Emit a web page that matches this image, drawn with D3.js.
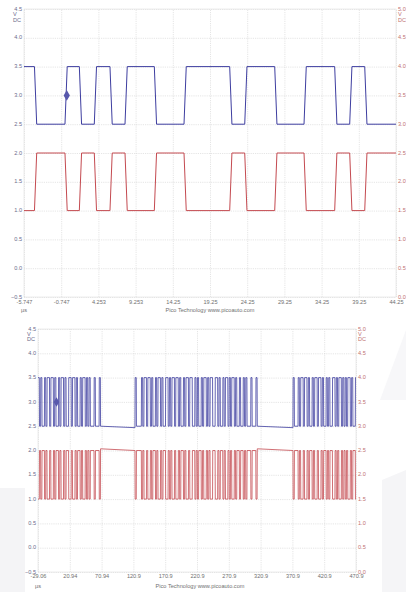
<!DOCTYPE html>
<html>
<head>
<meta charset="utf-8">
<script src="https://d3js.org/d3.v7.min.js"></script>
<style>
    body { margin: 0; background: #fff; }
    svg text { font-family: "Liberation Sans", Arial, sans-serif; font-size: 5.6px; }
    .grid line { stroke: #d4d4d4; stroke-width: 0.6px; stroke-dasharray: 1.2,1; }
    .grid path { display: none; }
</style>
</head>
<body>
<script>
    // ---- data ----
    var leftTicks  = [4.5, 4.0, 3.5, 3.0, 2.5, 2.0, 1.5, 1.0, 0.5, 0.0, -0.5];
    var rightTicks = [5.0, 4.5, 4.0, 3.5, 3.0, 2.5, 2.0, 1.5, 1.0, 0.5, 0.0];
    var topTimeLabels = ['-5.747', '-0.747', '4.253', '9.253', '14.25', '19.25', '24.25', '29.25', '34.25', '39.25', '44.25'];
    var botTimeLabels = ['-29.06', '20.94', '70.94', '120.9', '170.9', '220.9', '270.9', '320.9', '370.9', '420.9', '470.9'];
    var topDomain = [-5.747, 44.253];
    var botDomain = [-29.06, 470.94];

    // CAN levels: channel A (CAN-H, left axis), channel B (CAN-L, right axis)
    var levelsH = [3.5, 2.5];   // dominant, recessive
    var levelsL = [1.5, 2.5];

    // top capture: edge start times in us, bus starts dominant
    var topEdges = [-4.34, -0.24, 1.69, 3.70, 5.81, 7.83, 11.77, 15.76, 21.90, 23.92, 27.95, 31.89, 36.01, 38.03, 40.05];
    var edgeTime = 0.3;

    // bottom capture: frames (1 = dominant bit), 2 us per bit
    var bitTime = 2;
    var botFrameStart = [-31, 123.4, 371.8];
    var botFrameBits = [
        '11010010110110100101101001101101001011010100010001',
        '100001011011010010110100110101101101001011011001010010110101100110100101101011010010010100010001',
        '10001011011010010110110100101001101011010101101001'
    ];
    // slow drift while the bus is idle
    var idleH = [[2.5, 2.47], [2.5, 2.47]];
    var idleL = [[2.535, 2.5], [2.535, 2.5]];

    var trigger = [0, 3.0];   // us, volts on channel A

    // ---- helpers ----
    function edgeTrace(t0, t1, edges, first, other) {
        var pts = [[t0, first]], cur = first, nxt = other;
        edges.forEach(function(e) {
            pts.push([e, cur], [e + edgeTime, nxt]);
            var tmp = cur; cur = nxt; nxt = tmp;
        });
        pts.push([t1, cur]);
        return pts;
    }

    function busTrace(starts, frames, lv, idle) {
        var pts = [], cur = null;
        frames.forEach(function(bits, f) {
            var s = starts[f];
            bits.split('').forEach(function(b, k) {
                var t = s + k * bitTime, v = b === '1' ? lv[0] : lv[1];
                if (cur === null) pts.push([t, v]);
                else if (v !== cur) { pts.push([t, cur], [t + edgeTime, v]); }
                cur = v;
            });
            var tEnd = s + bits.length * bitTime;
            pts.push([tEnd, cur]);
            if (f < frames.length - 1) {
                pts.push([tEnd + edgeTime, idle[f][0]], [starts[f + 1], idle[f][1]]);
                cur = idle[f][1];
            }
        });
        return pts;
    }

    var svg = d3.select('body').append('svg')
        .attr('width', 406)
        .attr('height', 592);

    // faint background shapes of the page
    svg.append('rect').attr('x', 0).attr('y', 488).attr('width', 25).attr('height', 104).style('fill', '#f4f4f6');
    svg.append('path').attr('d', 'M382,480 L406,470 L406,592 L382,592 Z').style('fill', '#f5f5f7');
    svg.append('path').attr('d', 'M406,330 L380,400 L406,400 Z').style('fill', '#f7f7f9');

    function drawPanel(p) {
        var w = p.right - p.left, h = p.bottom - p.top;
        var x = d3.scaleLinear().domain(p.domain).range([p.left, p.right]);
        var yL = d3.scaleLinear().domain([-0.5, 4.5]).range([p.bottom, p.top]);
        var yR = d3.scaleLinear().domain([0, 5]).range([p.bottom, p.top]);
        var xVals = d3.range(11).map(function(i) { return p.domain[0] + i * (p.domain[1] - p.domain[0]) / 10; });

        var g = svg.append('g');

        g.append('g').attr('class', 'grid')
            .attr('transform', 'translate(0,' + p.bottom + ')')
            .call(d3.axisBottom(x).tickValues(xVals).tickSize(-h).tickFormat(''));
        g.append('g').attr('class', 'grid')
            .attr('transform', 'translate(' + p.left + ',0)')
            .call(d3.axisLeft(yL).tickValues(leftTicks).tickSize(-w).tickFormat(''));

        g.append('rect')
            .attr('x', p.left).attr('y', p.top).attr('width', w).attr('height', h)
            .style('fill', 'none').style('stroke', '#e2e2e2').style('stroke-width', 0.6);

        // left axis (channel A)
        var la = g.append('g')
            .attr('transform', 'translate(' + (p.left - 1) + ',0)')
            .call(d3.axisLeft(yL).tickValues(leftTicks).tickSize(0).tickPadding(1).tickFormat(d3.format('.1f')));
        la.select('.domain').remove();
        la.selectAll('text').style('fill', '#6c6c8c').style('font-size', '5.6px').attr('dy', '0.2em');

        // right axis (channel B)
        var ra = g.append('g')
            .attr('transform', 'translate(' + (p.right + 1) + ',0)')
            .call(d3.axisRight(yR).tickValues(rightTicks).tickSize(0).tickPadding(1).tickFormat(d3.format('.1f')));
        ra.select('.domain').remove();
        ra.selectAll('text').style('fill', '#c07272').style('font-size', '5.6px').attr('dy', '0.2em');

        // units
        [['V', 1], ['DC', 2]].forEach(function(u) {
            g.append('text').attr('x', p.left - 11).attr('y', p.top + u[1] * p.unitStep + 1.5)
                .style('fill', '#6c6c8c').text(u[0]);
            g.append('text').attr('x', p.right + 2).attr('y', p.top + u[1] * p.unitStep + 1.5)
                .style('fill', '#c07272').text(u[0]);
        });

        // time axis
        var xa = g.append('g')
            .attr('transform', 'translate(0,' + p.bottom + ')')
            .call(d3.axisBottom(x).tickValues(xVals).tickSize(0).tickPadding(p.labelPad)
                .tickFormat(function(d, i) { return p.labels[i]; }));
        xa.select('.domain').remove();
        xa.selectAll('text').style('fill', '#707070').style('font-size', '5.6px');

        g.append('text').attr('x', p.left).attr('y', p.bottom + p.unitGap)
            .attr('text-anchor', 'middle').style('fill', '#707070').text('\u00b5s');
        g.append('text').attr('x', p.credit).attr('y', p.bottom + p.unitGap)
            .attr('text-anchor', 'middle').style('fill', '#707070')
            .text('Pico Technology  www.picoauto.com');

        // traces
        var clipId = 'clip' + p.id;
        svg.append('clipPath').attr('id', clipId).append('rect')
            .attr('x', p.left).attr('y', p.top).attr('width', w).attr('height', h);

        var lineL = d3.line().x(function(d) { return x(d[0]); }).y(function(d) { return yR(d[1]); });
        var lineH = d3.line().x(function(d) { return x(d[0]); }).y(function(d) { return yL(d[1]); });

        var tr = g.append('g').attr('clip-path', 'url(#' + clipId + ')');
        tr.append('path').datum(p.traceL).attr('d', lineL)
            .style('fill', 'none').style('stroke', '#c44a50').style('stroke-width', p.stroke);
        tr.append('path').datum(p.traceH).attr('d', lineH)
            .style('fill', 'none').style('stroke', '#3e3ea0').style('stroke-width', p.stroke);

        g.append('path')
            .attr('transform', 'translate(' + x(trigger[0]) + ',' + yL(trigger[1]) + ')')
            .attr('d', d3.symbol().type(d3.symbolDiamond).size(p.marker))
            .style('fill', '#5858ac');
    }

    drawPanel({
        id: 'top', left: 24, right: 396, top: 9, bottom: 297,
        domain: topDomain, labels: topTimeLabels, labelPad: 3.5, unitGap: 15, unitStep: 5.5, credit: 210,
        traceH: edgeTrace(topDomain[0], topDomain[1], topEdges, levelsH[0], levelsH[1]),
        traceL: edgeTrace(topDomain[0], topDomain[1], topEdges, levelsL[0], levelsL[1]),
        stroke: 1, marker: 34
    });

    drawPanel({
        id: 'bot', left: 38, right: 356, top: 329, bottom: 572,
        domain: botDomain, labels: botTimeLabels, labelPad: 2.5, unitGap: 16, unitStep: 5, credit: 200,
        traceH: busTrace(botFrameStart, botFrameBits, levelsH, idleH),
        traceL: busTrace(botFrameStart, botFrameBits, levelsL, idleL),
        stroke: 0.8, marker: 26
    });
</script>
</body>
</html>
